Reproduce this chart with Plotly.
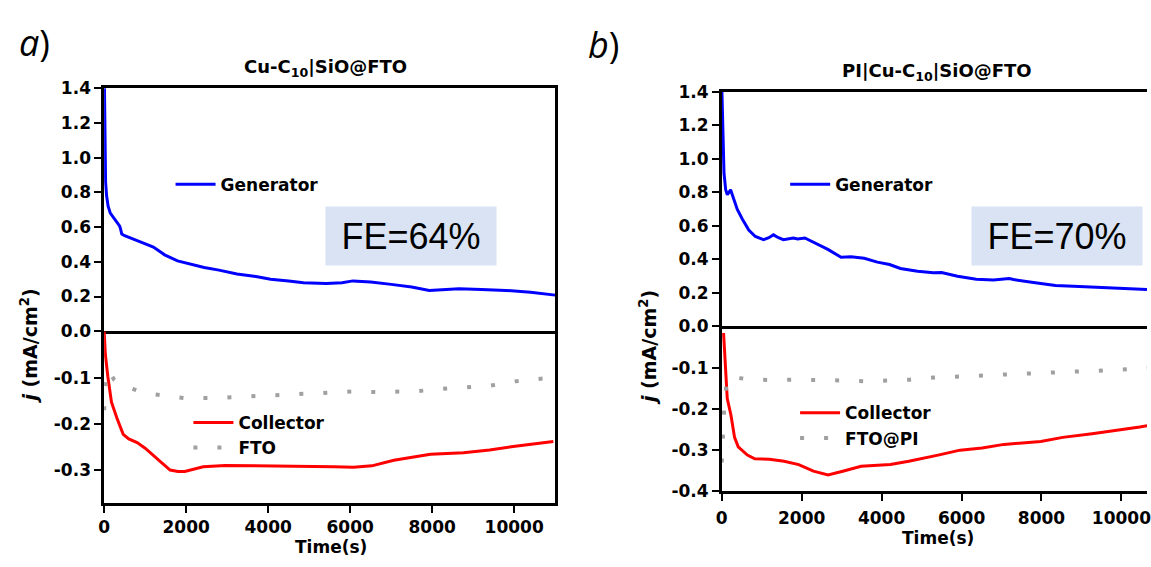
import plotly.graph_objects as go

# ---- data: chronoamperometry, generator / collector current densities ----
# Panel a: Cu-C10|SiO@FTO
t_gen_a = [0, 15, 35, 60, 97, 150, 250, 340, 380, 400, 430, 500, 700, 990, 1200, 1475, 1790,
           2100, 2440, 2800, 3240, 3700, 4060, 4500, 4860, 5416, 5800, 6070, 6500, 7000, 7500,
           7930, 8300, 8655, 9200, 9800, 10400, 11000]
j_gen_a = [1.55, 1.05, 0.86, 0.78, 0.72, 0.68, 0.645, 0.615, 0.605, 0.59, 0.56, 0.55, 0.53, 0.505,
           0.485, 0.44, 0.405, 0.385, 0.367, 0.352, 0.33, 0.315, 0.30, 0.29, 0.28, 0.275, 0.28,
           0.29, 0.283, 0.27, 0.255, 0.235, 0.24, 0.245, 0.24, 0.235, 0.225, 0.208]

t_col_a = [0, 30, 89, 179, 313, 400, 465, 600, 805, 1000, 1163, 1400, 1610, 1800, 1967, 2200,
           2415, 2950, 3846, 4500, 5187, 5600, 6081, 6528, 7065, 7500, 7959, 8764, 9400, 9927, 10955]
j_col_a = [0.0, -0.05, -0.097, -0.153, -0.1875, -0.205, -0.222, -0.232, -0.24, -0.252, -0.264,
           -0.283, -0.299, -0.302, -0.302, -0.297, -0.292, -0.289, -0.29, -0.29, -0.29, -0.292,
           -0.293, -0.29, -0.278, -0.272, -0.265, -0.262, -0.256, -0.249, -0.2375]

t_fto_a = [0, 40, 100, 250, 402, 492, 984, 1520, 1967, 2638, 3309, 3711, 4337, 4963, 5411, 6037,
           6707, 7136, 7646, 8272, 8836, 9435, 10016, 10642, 11000]
j_fto_a = [-0.17, -0.09, -0.085, -0.105, -0.115, -0.118, -0.133, -0.139, -0.144, -0.144, -0.141,
           -0.139, -0.136, -0.133, -0.131, -0.130, -0.131, -0.131, -0.129, -0.124, -0.121, -0.117,
           -0.108, -0.103, -0.099]

# Panel b: PI|Cu-C10|SiO@FTO
t_gen_b = [0, 32, 57, 99, 140, 180, 222, 305, 387, 511, 676, 841, 1047, 1180, 1295, 1420, 1542,
           1790, 1900, 2079, 2327, 2656, 2986, 3234, 3564, 3894, 4200, 4470, 4900, 5297, 5500,
           5900, 6369, 6800, 7193, 7300, 7800, 8349, 8800, 9173, 9900, 10640]
j_gen_b = [1.45, 1.10, 0.915, 0.816, 0.787, 0.80, 0.816, 0.758, 0.70, 0.643, 0.576, 0.537, 0.518,
           0.53, 0.547, 0.53, 0.518, 0.528, 0.522, 0.528, 0.499, 0.46, 0.413, 0.416, 0.407,
           0.384, 0.37, 0.346, 0.33, 0.32, 0.322, 0.30, 0.282, 0.278, 0.286, 0.28, 0.262,
           0.244, 0.24, 0.236, 0.228, 0.22]

t_col_b = [46, 92, 138, 229, 321, 413, 642, 826, 1193, 1560, 1927, 2294, 2661, 3028, 3486, 4220,
           4679, 5413, 5963, 6514, 7064, 7982, 8532, 9266, 10000, 10459, 10807]
j_col_b = [-0.016, -0.113, -0.175, -0.214, -0.269, -0.292, -0.312, -0.321, -0.322, -0.327, -0.335,
           -0.351, -0.36, -0.351, -0.339, -0.335, -0.327, -0.312, -0.30, -0.295, -0.286, -0.279,
           -0.269, -0.26, -0.251, -0.244, -0.238]

t_fto_b = [0, 60, 120, 202, 807, 1211, 1881, 2523, 2954, 3624, 4266, 4697, 5303, 5963, 6394, 7036,
           7679, 8092, 8688, 9339, 9835, 10459, 10800]
j_fto_b = [-0.33, -0.2, -0.135, -0.123, -0.129, -0.130, -0.129, -0.129, -0.131, -0.133, -0.131,
           -0.129, -0.124, -0.121, -0.119, -0.117, -0.115, -0.111, -0.110, -0.108, -0.105, -0.102,
           -0.100]

# ---- tick values / labels ----
x_ticks = [0, 2000, 4000, 6000, 8000, 10000]
x_labels = ["0", "2000", "4000", "6000", "8000", "10000"]
y_top_ticks = [0, 0.2, 0.4, 0.6, 0.8, 1.0, 1.2, 1.4]
y_top_labels = ["0.0", "0.2", "0.4", "0.6", "0.8", "1.0", "1.2", "1.4"]
y_bot_a_ticks = [-0.3, -0.2, -0.1]
y_bot_a_labels = ["-0.3", "-0.2", "-0.1"]
y_bot_b_ticks = [-0.4, -0.3, -0.2, -0.1]
y_bot_b_labels = ["-0.4", "-0.3", "-0.2", "-0.1"]

fe_labels = ["FE=64%", "FE=70%"]
panel_titles = ["Cu-C<sub>10</sub>|SiO@FTO", "PI|Cu-C<sub>10</sub>|SiO@FTO"]

# ---- geometry (pixels -> paper fractions) ----
W, H = 1151, 567
def fx(px):
    return px / W
def fy(py):
    return 1 - py / H

BOLD = "DejaVu Sans, Verdana, sans-serif"
PLAIN = "Liberation Sans, Arial, sans-serif"
BLUE, RED, GREY = "#0000ff", "#ff0000", "#a0a0a0"
TICK_FONT = dict(family=BOLD, size=17, color="black", weight="bold")
LEG_FONT = dict(family=BOLD, size=17, color="black", weight="bold")

fig = go.Figure()

fig.add_trace(go.Scatter(x=t_gen_a, y=j_gen_a, xaxis="x", yaxis="y", mode="lines",
                         name="Generator", line=dict(color=BLUE, width=3), legend="legend"))
fig.add_trace(go.Scatter(x=t_col_a, y=j_col_a, xaxis="x2", yaxis="y2", mode="lines",
                         name="Collector", line=dict(color=RED, width=3), legend="legend2"))
fig.add_trace(go.Scatter(x=t_fto_a, y=j_fto_a, xaxis="x2", yaxis="y2", mode="lines",
                         name="FTO", line=dict(color=GREY, width=4, dash="4px,20px"),
                         legend="legend2"))
fig.add_trace(go.Scatter(x=t_gen_b, y=j_gen_b, xaxis="x3", yaxis="y3", mode="lines",
                         name="Generator", line=dict(color=BLUE, width=3), legend="legend3"))
fig.add_trace(go.Scatter(x=t_col_b, y=j_col_b, xaxis="x4", yaxis="y4", mode="lines",
                         name="Collector", line=dict(color=RED, width=3), legend="legend4"))
fig.add_trace(go.Scatter(x=t_fto_b, y=j_fto_b, xaxis="x4", yaxis="y4", mode="lines",
                         name="FTO@PI", line=dict(color=GREY, width=4, dash="4px,20px"),
                         legend="legend4"))

axis_common = dict(showgrid=False, zeroline=False, showline=True, linecolor="black",
                   linewidth=2.5, tickfont=TICK_FONT, tickcolor="black", tickwidth=2, ticklen=7)

dom_a = [fx(99), fx(554)]
dom_b = [fx(722), 1.0]
top_a, bot_a = [fy(333), fy(81)], [fy(511), fy(333)]
top_b, bot_b = [fy(328), fy(85)], [fy(499), fy(328)]

layout = dict(
    width=W, height=H, margin=dict(l=0, r=0, t=0, b=0),
    paper_bgcolor="white", plot_bgcolor="white", showlegend=True,
    # upper halves: the x line drawn at their bottom edge is the j = 0 line
    xaxis=dict(axis_common, domain=dom_a, range=[0, 11000], anchor="y", ticks="",
               showticklabels=False, mirror=True),
    yaxis=dict(axis_common, domain=top_a, range=[0, 1.4], anchor="x", ticks="outside",
               tickvals=y_top_ticks, ticktext=y_top_labels, mirror=True),
    xaxis2=dict(axis_common, domain=dom_a, range=[0, 11000], anchor="y2", ticks="outside",
                tickvals=x_ticks, ticktext=x_labels, ticklabelstandoff=0),
    yaxis2=dict(axis_common, domain=bot_a, range=[-0.37, 0], anchor="x2", ticks="outside",
                tickvals=y_bot_a_ticks, ticktext=y_bot_a_labels, mirror=True),
    xaxis3=dict(axis_common, domain=dom_b, range=[0, 10640], anchor="y3", ticks="",
                showticklabels=False, mirror=True),
    yaxis3=dict(axis_common, domain=top_b, range=[0, 1.4], anchor="x3", ticks="outside",
                tickvals=y_top_ticks, ticktext=y_top_labels),
    xaxis4=dict(axis_common, domain=dom_b, range=[0, 10640], anchor="y4", ticks="outside",
                tickvals=x_ticks, ticktext=x_labels, ticklabelstandoff=2,
                ticklabeloverflow="allow"),
    yaxis4=dict(axis_common, domain=bot_b, range=[-0.4, 0], anchor="x4", ticks="outside",
                tickvals=y_bot_b_ticks, ticktext=y_bot_b_labels),
)

leg_common = dict(bgcolor="rgba(0,0,0,0)", font=LEG_FONT, xanchor="left", yanchor="middle",
                  itemwidth=40, tracegroupgap=0)
layout["legend"] = dict(leg_common, x=fx(166), y=fy(181))
layout["legend2"] = dict(leg_common, x=fx(184), y=fy(441))
layout["legend3"] = dict(leg_common, x=fx(786), y=fy(181))
layout["legend4"] = dict(leg_common, x=fx(796), y=fy(431))

fig.update_layout(**layout)

ann = []
def note(text, x, y, font, **kw):
    ann.append(dict(text=text, x=fx(x), y=fy(y), xref="paper", yref="paper", showarrow=False,
                    xanchor="center", yanchor="middle", font=font, **kw))

# panel letters
letter_font = dict(family="Open Sans, sans-serif", size=36, color="black")
note("<i>a</i>)", 29, 34, letter_font)
note("<i>b</i>)", 603, 36, letter_font)

# panel titles
title_font = dict(family=BOLD, size=18, color="black", weight="bold")
note(panel_titles[0], 322, 60, title_font)
note(panel_titles[1], 939, 64, title_font)

# axis titles
ytitle_font = dict(family=BOLD, size=19, color="black", weight="bold")
for xc, yc in [(23, 348), (647, 350)]:
    note("<i>j</i> (mA/cm<sup>2</sup>)", xc, yc, ytitle_font, textangle=-90)
xtitle_font = dict(family=BOLD, size=17, color="black", weight="bold")
note("Time(s)", 328, 557, xtitle_font)
note("Time(s)", 940, 547, xtitle_font)

# faradaic efficiency boxes
fe_font = dict(family=PLAIN, size=36, color="black")
note(fe_labels[0], 409, 234, fe_font, width=168, height=56, bgcolor="#dae3f3")
note(fe_labels[1], 1060, 234, fe_font, width=168, height=56, bgcolor="#dae3f3")

fig.update_layout(annotations=ann)
fig.write_html("out.html")
